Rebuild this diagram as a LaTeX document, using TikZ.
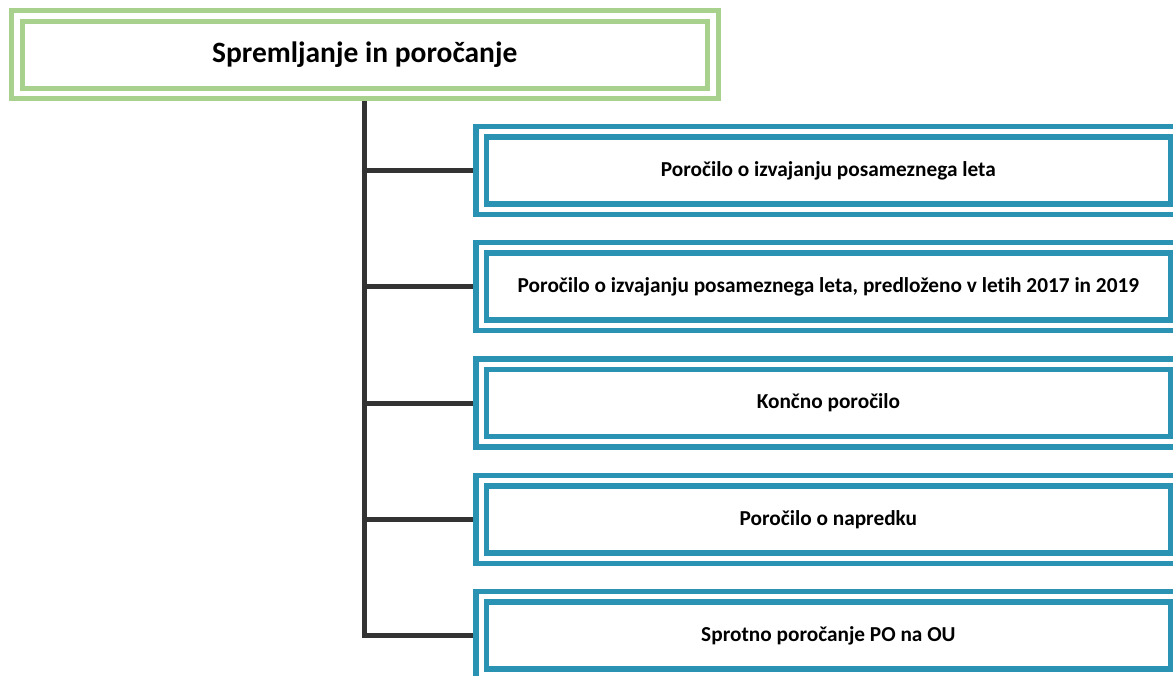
\documentclass[tikz,border=0pt]{standalone}
\usepackage{fontspec}
\setmainfont{Carlito}[Ligatures=NoCommon]
\usetikzlibrary{backgrounds}
\definecolor{gfr}{RGB}{169,209,142}
\definecolor{bfr}{RGB}{42,146,178}
\definecolor{cline}{RGB}{51,51,51}
\begin{document}
\begin{tikzpicture}[x=1pt,y=-1pt,
 titlebox/.style={draw=gfr, line width=5pt, double=white, double distance=5.5pt, fill=white,
   minimum width=696pt, minimum height=77.5pt, inner sep=0pt, outer sep=0pt,
   font=\bfseries\fontsize{29.5}{34}\selectfont},
 itembox/.style={draw=bfr, line width=5.5pt, double=white, double distance=5pt, fill=white,
   minimum width=694.75pt, minimum height=77.5pt, inner sep=0pt, outer sep=0pt,
   font=\bfseries\fontsize{21.3}{25}\selectfont},
 link/.style={draw=cline, line width=5pt}]
\clip (0,0) rectangle (1173,676);
\node[titlebox] (t) at (364.75,54.75) {Spremljanje in poročanje};
\node[itembox] (b1) at (828.4,170.5) {Poročilo o izvajanju posameznega leta};
\node[itembox] (b2) at (828.4,286.75) {Poročilo o izvajanju posameznega leta, predloženo v letih 2017 in 2019};
\node[itembox] (b3) at (828.4,403) {Končno poročilo};
\node[itembox] (b4) at (828.4,519.25) {Poročilo o napredku};
\node[itembox] (b5) at (828.4,635.5) {Sprotno poročanje PO na OU};
\begin{pgfonlayer}{background}
\fill[white] (0,0) rectangle (1173,676);
\draw[link] (t.south) |- (b5.west);
\foreach \i in {1,2,3,4} {\draw[link] (t.south |- b\i.west) -- (b\i.west);}
\end{pgfonlayer}
\end{tikzpicture}
\end{document}
